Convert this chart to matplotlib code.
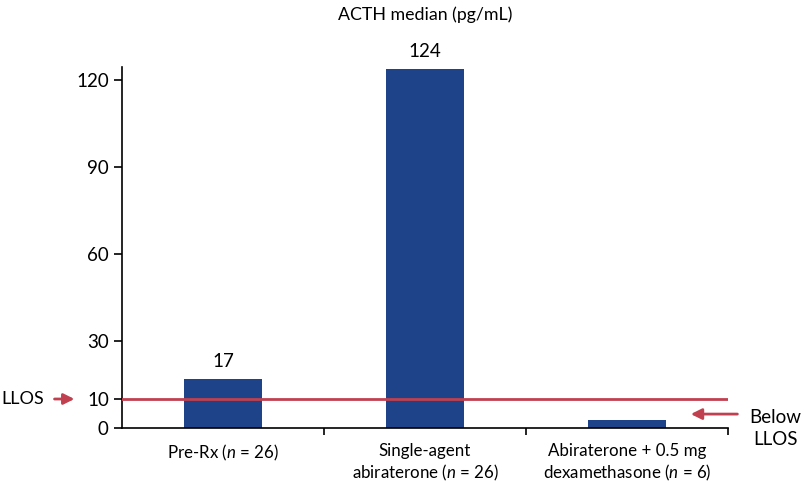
import matplotlib
matplotlib.use("Agg")
import matplotlib.pyplot as plt

plt.rcParams['font.family'] = ['Lato', 'DejaVu Sans']
plt.rcParams['mathtext.fontset'] = 'custom'
plt.rcParams['mathtext.rm'] = 'Lato'
plt.rcParams['mathtext.it'] = 'Lato:italic'

# Données
categories = ["Pre-Rx ($n$ = 26)",
              "Single-agent\nabiraterone ($n$ = 26)",
              "Abiraterone + 0.5 mg\ndexamethasone ($n$ = 6)"]
values = [17, 124, 2.7]
value_labels = ["17", "124", ""]
yticks = [0, 10, 30, 60, 90, 120]
llos = 10

bar_color = "#1F4388"
red = "#C0404F"

fig = plt.figure(figsize=(8.05, 4.83), dpi=100)
ax = fig.add_axes([0.1516, 0.1139, 0.7528, 0.7471])

x = list(range(len(categories)))
ax.bar(x, values, width=0.39, color=bar_color, zorder=2)
for xi, v, lab in zip(x, values, value_labels):
    if lab:
        ax.text(xi, v + 3, lab, ha="center", va="bottom", fontsize=13.5)

ax.axhline(llos, color=red, lw=2, zorder=3)

ax.set_xlim(-0.5, 2.5)
ax.set_ylim(0, 124.5)
ax.set_yticks(yticks)
ax.tick_params(axis="y", labelsize=13.5, length=6, width=1.2, direction="out")
ax.set_xticks(x)
ax.set_xticklabels(categories, fontsize=12.2)
ax.tick_params(axis="x", which="major", length=0, pad=11)
ax.set_xticks([0.5, 1.5, 2.5], minor=True)
ax.tick_params(axis="x", which="minor", length=5, width=1.2, direction="out")

for s in ["top", "right"]:
    ax.spines[s].set_visible(False)
for s in ["left", "bottom"]:
    ax.spines[s].set_linewidth(1.2)

ax.set_title("ACTH median (pg/mL)", fontsize=12.8, pad=34)

# Flèches LLOS
tr = ax.get_yaxis_transform()
ax.annotate("", xy=(-0.074, llos), xytext=(-0.116, llos), xycoords=tr,
            textcoords=tr, annotation_clip=False,
            arrowprops=dict(arrowstyle="-|>", color=red, lw=2, mutation_scale=16))
ax.text(-0.128, llos, "LLOS", transform=tr, ha="right", va="center",
        fontsize=13, clip_on=False)

ax.annotate("", xy=(0.934, 4.8), xytext=(1.02, 4.8), xycoords=tr,
            textcoords=tr, annotation_clip=False,
            arrowprops=dict(arrowstyle="-|>", color=red, lw=2, mutation_scale=16))
ax.text(1.078, -0.3, "Below\nLLOS", transform=tr, ha="center", va="center",
        fontsize=13.5, clip_on=False, linespacing=1.35)

fig.savefig("out.png", dpi=100)
